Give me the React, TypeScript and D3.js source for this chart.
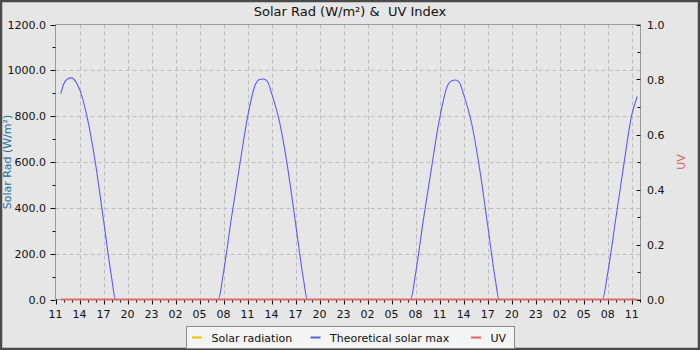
import React from 'react'
import * as d3 from 'd3'

// theoretical solar max, W/m²
const maxTimes = [
  '06-10 11:40', '06-10 12:00', '06-10 12:30', '06-10 13:00', '06-10 13:30', '06-10 14:00',
  '06-10 15:00', '06-10 16:00', '06-10 17:00', '06-10 18:00', '06-10 18:30',
  '06-11 07:20', '06-11 08:00', '06-11 09:00', '06-11 10:00', '06-11 11:00', '06-11 12:00',
  '06-11 12:30', '06-11 13:00', '06-11 13:30', '06-11 14:00', '06-11 15:00', '06-11 16:00',
  '06-11 17:00', '06-11 18:00', '06-11 18:28',
  '06-12 07:22', '06-12 08:00', '06-12 09:00', '06-12 10:00', '06-12 11:00', '06-12 12:00',
  '06-12 12:30', '06-12 13:00', '06-12 13:30', '06-12 14:00', '06-12 15:00', '06-12 16:00',
  '06-12 17:00', '06-12 18:00', '06-12 18:25',
  '06-13 07:20', '06-13 08:00', '06-13 09:00', '06-13 10:00', '06-13 11:00', '06-13 11:42',
]
const maxValues = [
  898, 938, 962, 967, 952, 918, 788, 593, 346, 99, 0,
  0, 120, 360, 582, 796, 940, 960, 962, 950, 900, 774, 578, 332, 85, 0,
  0, 115, 355, 578, 790, 935, 955, 958, 945, 895, 768, 570, 325, 78, 0,
  0, 115, 350, 585, 805, 886,
]

// measured solar radiation and UV index (flat at zero)
const obsTimes = ['06-10 11:40', '06-11 00:00', '06-12 00:00', '06-13 00:00', '06-13 11:42']
const solarValues = [0, 0, 0, 0, 0]
const uvValues = [0, 0, 0, 0, 0]

const leftTicks = [0, 200, 400, 600, 800, 1000, 1200]
const rightTicks = [0, 0.2, 0.4, 0.6, 0.8, 1.0]

const legendItems = [
  { label: 'Solar radiation', color: '#f5c400' },
  { label: 'Theoretical solar max', color: '#5c5cf2' },
  { label: 'UV', color: '#ec6060' },
]

const parse = d3.utcParse('%Y-%m-%d %H:%M')
const t = (s: string) => parse('2024-' + s) as Date

const W = 700
const H = 350
const m = { left: 55.5, right: 640.5, top: 24.5, bottom: 299.5 }
const font = 'DejaVu Sans, sans-serif'

export default function App() {
  const start = t('06-10 11:00')
  const end = new Date(start.getTime() + 73.1 * 3600e3)

  const x = d3.scaleUtc().domain([start, end]).range([m.left, m.right])
  const yL = d3.scaleLinear().domain([0, 1200]).range([m.bottom, m.top])
  const yR = d3.scaleLinear().domain([0, 1]).range([m.bottom, m.top])

  const major = d3.utcHour.range(start, end, 3)
  const minor = d3.utcHour.range(start, end)
  const fmt = d3.utcFormat('%H')
  const px = (d: Date) => Math.round(x(d)) + 0.5

  const maxData = maxTimes.map((s, i) => ({ t: t(s), v: maxValues[i] }))
  const solarData = obsTimes.map((s, i) => ({ t: t(s), v: solarValues[i] }))
  const uvData = obsTimes.map((s, i) => ({ t: t(s), v: uvValues[i] }))

  const lineL = d3.line<{ t: Date; v: number }>()
    .x((d) => x(d.t)).y((d) => yL(d.v)).curve(d3.curveMonotoneX)
  const lineR = d3.line<{ t: Date; v: number }>()
    .x((d) => x(d.t)).y((d) => yR(d.v))

  const leftMinor = d3.range(100, 1200, 200)
  const rightMinor = d3.range(0.1, 1, 0.2)

  return (
    <svg width={W} height={H} style={{ position: 'absolute', left: 0, top: 0 }} fontFamily={font}>
      <rect x={1} y={1} width={W - 2} height={H - 2} fill="#e6e6e6" stroke="#4a4a4a" strokeWidth={2.5} />
      <text x={350} y={16} textAnchor="middle" fontSize={13} fill="#111" style={{ whiteSpace: 'pre' }}>
        {'Solar Rad (W/m²) &  UV Index'}
      </text>

      {/* grid */}
      {leftTicks.slice(1, -1).map((v) => (
        <line key={'h' + v} x1={m.left} x2={m.right} y1={Math.round(yL(v)) + 0.5} y2={Math.round(yL(v)) + 0.5} stroke="#bdbdbd" strokeDasharray="4,3" />
      ))}
      {major.slice(1).map((d) => (
        <line key={'v' + d.getTime()} x1={px(d)} x2={px(d)} y1={m.top} y2={m.bottom} stroke="#bdbdbd" strokeDasharray="4,3" />
      ))}

      {/* plot frame */}
      <line x1={m.left} x2={m.right} y1={m.top} y2={m.top} stroke="#9a9a9a" />
      <line x1={m.left} x2={m.left} y1={m.top} y2={m.bottom} stroke="#9a9a9a" />
      <line x1={m.right} x2={m.right} y1={m.top} y2={m.bottom} stroke="#9a9a9a" />
      <line x1={m.left} x2={m.right} y1={m.bottom} y2={m.bottom} stroke="#9a9a9a" />

      {/* left axis */}
      {leftTicks.map((v) => (
        <g key={'l' + v}>
          <line x1={m.left - 5} x2={m.left} y1={Math.round(yL(v)) + 0.5} y2={Math.round(yL(v)) + 0.5} stroke="#111" />
          <text x={46} y={yL(v) + 4} textAnchor="end" fontSize={11} fill="#111">{v.toFixed(1)}</text>
        </g>
      ))}
      {leftMinor.map((v) => (
        <line key={'lm' + v} x1={m.left - 3} x2={m.left} y1={Math.round(yL(v)) + 0.5} y2={Math.round(yL(v)) + 0.5} stroke="#111" />
      ))}
      <text transform={`translate(11,${(m.top + m.bottom) / 2}) rotate(-90)`} textAnchor="middle" fontSize={11} fill="#2270a4">Solar Rad (W/m²)</text>

      {/* right axis */}
      {rightTicks.map((v) => (
        <g key={'r' + v}>
          <line x1={m.right - 4} x2={m.right} y1={Math.round(yR(v)) + 0.5} y2={Math.round(yR(v)) + 0.5} stroke="#111" />
          <text x={647} y={yR(v) + 4} fontSize={11} fill="#111">{v.toFixed(1)}</text>
        </g>
      ))}
      {rightMinor.map((v) => (
        <line key={'rm' + v} x1={m.right - 3} x2={m.right} y1={Math.round(yR(v)) + 0.5} y2={Math.round(yR(v)) + 0.5} stroke="#111" />
      ))}
      <text transform={`translate(685,${(m.top + m.bottom) / 2}) rotate(-90)`} textAnchor="middle" fontSize={11} fill="#e05a5a">UV</text>

      {/* x axis */}
      {minor.map((d) => (
        <line key={'xm' + d.getTime()} x1={px(d)} x2={px(d)} y1={m.bottom} y2={m.bottom + 3} stroke="#111" />
      ))}
      {major.map((d) => (
        <g key={'x' + d.getTime()}>
          <line x1={px(d)} x2={px(d)} y1={m.bottom} y2={m.bottom + 5} stroke="#111" />
          <text x={x(d)} y={318} textAnchor="middle" fontSize={11} fill="#111">{fmt(d)}</text>
        </g>
      ))}

      {/* series */}
      <path d={lineL(solarData) ?? ''} fill="none" stroke="#f5c400" strokeWidth={1} />
      <path d={lineL(maxData) ?? ''} fill="none" stroke="#5c5cf2" strokeWidth={1.1} />
      <path d={lineR(uvData) ?? ''} fill="none" stroke="#e06a6a" strokeWidth={2} />

      {/* legend */}
      <rect x={186.5} y={326.5} width={328} height={22} fill="#f4f4f4" stroke="#8a8a8a" />
      {legendItems.map((it, i) => {
        const lx = [192, 310.5, 471][i]
        return (
          <g key={it.label}>
            <line x1={lx} x2={lx + 10} y1={337.5} y2={337.5} stroke={it.color} strokeWidth={2} />
            <text x={lx + 19.5} y={341.5} fontSize={11} fill="#111">{it.label}</text>
          </g>
        )
      })}
    </svg>
  )
}
